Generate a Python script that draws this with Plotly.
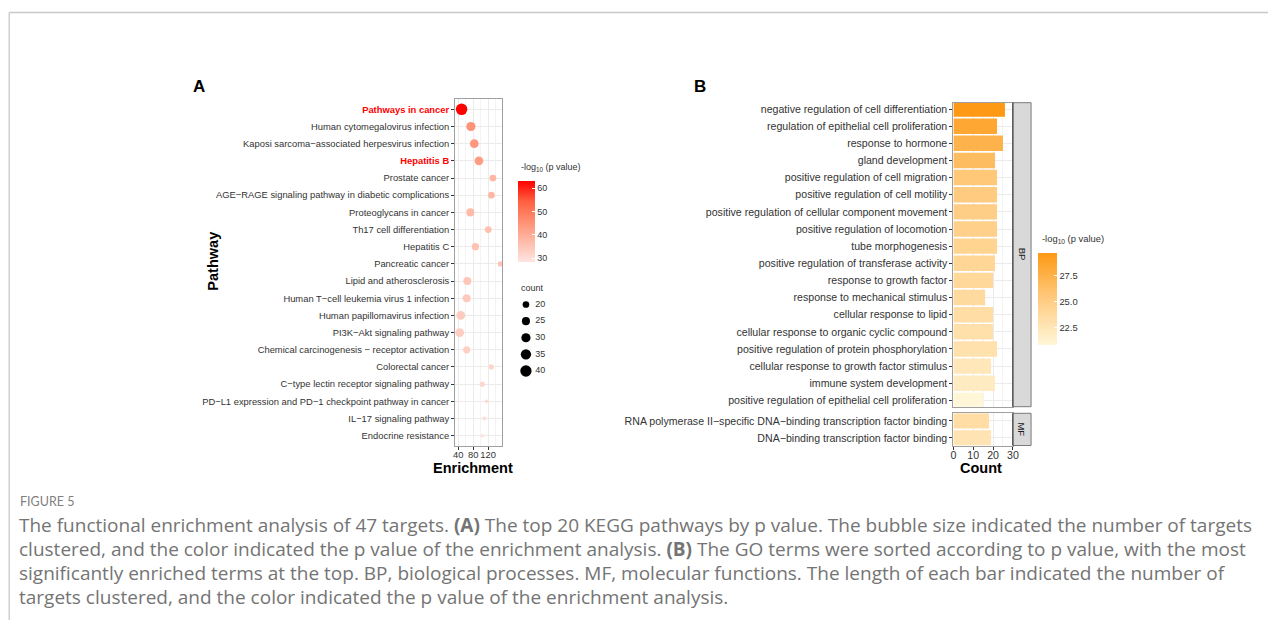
import math
import plotly.graph_objects as go

# Page body adds an 8px margin; size the figure so the page fits the window.
OFF = 8
W, H = 1282 - 2 * OFF, 628 - 2 * OFF
# Observed horizontal placement of the rendered page: window_x = X0 + paper_x * XS
X0, XS = 11.3, 1257.4

# ---------------- Data: panel A (KEGG bubbles) ----------------
kegg_pathways = [
    "Pathways in cancer",
    "Human cytomegalovirus infection",
    "Kaposi sarcoma−associated herpesvirus infection",
    "Hepatitis B",
    "Prostate cancer",
    "AGE−RAGE signaling pathway in diabetic complications",
    "Proteoglycans in cancer",
    "Th17 cell differentiation",
    "Hepatitis C",
    "Pancreatic cancer",
    "Lipid and atherosclerosis",
    "Human T−cell leukemia virus 1 infection",
    "Human papillomavirus infection",
    "PI3K−Akt signaling pathway",
    "Chemical carcinogenesis − receptor activation",
    "Colorectal cancer",
    "C−type lectin receptor signaling pathway",
    "PD−L1 expression and PD−1 checkpoint pathway in cancer",
    "IL−17 signaling pathway",
    "Endocrine resistance",
]
kegg_enrichment = [49, 74, 83, 95.5, 133, 129, 72.5, 120.5, 86, 153,
                   64.5, 62.7, 46.7, 44, 62.7, 128.6, 104.6, 116, 110, 104.6]
kegg_count = [41, 30, 28, 28, 20, 20, 25, 20, 22, 15,
              25, 25, 28, 28, 22, 15, 15, 11, 11, 11]
kegg_logp = [63, 45, 44, 43, 38, 37.5, 37, 36, 35.5, 35,
             34.5, 34, 33.5, 33, 32.5, 32, 31, 30, 29.5, 28.3]
highlighted = ["Pathways in cancer", "Hepatitis B"]
enrich_ticks = [40, 80, 120]
size_legend_counts = [20, 25, 30, 35, 40]
logp_ticks_a = [30, 40, 50, 60]

# ---------------- Data: panel B (GO bars) ----------------
bp_terms = [
    "negative regulation of cell differentiation",
    "regulation of epithelial cell proliferation",
    "response to hormone",
    "gland development",
    "positive regulation of cell migration",
    "positive regulation of cell motility",
    "positive regulation of cellular component movement",
    "positive regulation of locomotion",
    "tube morphogenesis",
    "positive regulation of transferase activity",
    "response to growth factor",
    "response to mechanical stimulus",
    "cellular response to lipid",
    "cellular response to organic cyclic compound",
    "positive regulation of protein phosphorylation",
    "cellular response to growth factor stimulus",
    "immune system development",
    "positive regulation of epithelial cell proliferation",
]
bp_count = [26, 22, 25, 21, 22, 22, 22, 22, 22, 21, 20, 16, 20, 20, 22, 19, 21, 15]
bp_logp = [29.7, 28.5, 27.5, 26.6, 25.6, 25.3, 25.0, 24.8, 24.5, 24.2,
           24.0, 23.8, 23.5, 23.2, 23.0, 22.4, 22.0, 20.9]
mf_terms = [
    "RNA polymerase II−specific DNA−binding transcription factor binding",
    "DNA−binding transcription factor binding",
]
mf_count = [18, 19]
mf_logp = [23.5, 22.8]
count_ticks = [0, 10, 20, 30]
logp_ticks_b = [22.5, 25.0, 27.5]

caption_label = "FIGURE 5"
caption_lines = [
    "The functional enrichment analysis of 47 targets. <b>(A)</b> The top 20 KEGG pathways by p value. The bubble size indicated the number of targets",
    "clustered, and the color indicated the p value of the enrichment analysis. <b>(B)</b> The GO terms were sorted according to p value, with the most",
    "significantly enriched terms at the top. BP, biological processes. MF, molecular functions. The length of each bar indicated the number of",
    "targets clustered, and the color indicated the p value of the enrichment analysis.",
]


# ---------------- helpers (window pixel -> paper) ----------------
def px(x):
    return (x - X0) / XS


def py(y):
    return 1 - (y - OFF) / H


def diam(c):
    return 2.483 * math.sqrt(c) - 4.4


FONT = "Liberation Sans, Arial, sans-serif"
CAP_FONT = "Open Sans, Lato, sans-serif"
TXT = "#333333"
GRID = "#ebebeb"
GRID_MINOR = "#f4f4f4"
BORDER = "#a0a0a0"

scale_a = [[0, "#fee4e1"], [0.25, "#ffbba9"], [0.5, "#ff9074"], [0.75, "#ff5f3f"], [1, "#ff0000"]]
scale_b = [[0, "#fff6d8"], [0.5, "#ffcb80"], [1, "#fd9914"]]

ticktext_a = [
    f'<b><span style="color:#ff0000">{p}</span></b>' if p in highlighted else p
    for p in kegg_pathways
]

fig = go.Figure()

# Panel A bubbles
fig.add_trace(go.Scatter(
    x=kegg_enrichment, y=kegg_pathways, mode="markers",
    marker=dict(size=[diam(c) for c in kegg_count], color=kegg_logp,
                coloraxis="coloraxis", line=dict(width=0), opacity=1),
    xaxis="x", yaxis="y", showlegend=False, hoverinfo="x+y",
))

# Size legend (panel A)
fig.add_trace(go.Scatter(
    x=[0.2] * len(size_legend_counts), y=size_legend_counts, mode="markers",
    marker=dict(size=[diam(c) for c in size_legend_counts], color="#000000",
                line=dict(width=0), opacity=1),
    xaxis="x4", yaxis="y4", showlegend=False, hoverinfo="skip",
))
fig.add_trace(go.Scatter(
    x=[0.42] * len(size_legend_counts), y=size_legend_counts, mode="text",
    text=[str(c) for c in size_legend_counts], textposition="middle right",
    textfont=dict(family=FONT, size=9, color=TXT),
    xaxis="x4", yaxis="y4", showlegend=False, hoverinfo="skip",
))

# Panel B bars
fig.add_trace(go.Bar(
    x=bp_count, y=bp_terms, orientation="h", width=0.9,
    marker=dict(color=bp_logp, coloraxis="coloraxis2", line=dict(width=0)),
    xaxis="x2", yaxis="y2", showlegend=False,
))
fig.add_trace(go.Bar(
    x=mf_count, y=mf_terms, orientation="h", width=0.9,
    marker=dict(color=mf_logp, coloraxis="coloraxis2", line=dict(width=0)),
    xaxis="x3", yaxis="y3", showlegend=False,
))

axis_common = dict(showline=True, mirror=True, linecolor=BORDER, linewidth=1,
                   gridcolor=GRID, gridwidth=1, zeroline=False,
                   tickcolor="#333333", ticklen=3, tickwidth=1)

# Panel A geometry (window pixels)
a_x0, a_x1, a_y0, a_y1 = 455.5, 502.7, 99, 446
# Panel B geometry
b_x0, b_x1 = 954, 1013.5
bp_y0, bp_y1 = 102.7, 406.7
mf_y0, mf_y1 = 413.3, 445.5
strip_x1 = 1031.7

fig.update_layout(
    width=W, height=H, margin=dict(l=0, r=0, t=0, b=0),
    paper_bgcolor="white", plot_bgcolor="white",
    font=dict(family=FONT, color=TXT),
    xaxis=dict(domain=[px(a_x0), px(a_x1)], range=[31.5, 158], anchor="y",
               tickvals=enrich_ticks, ticks="outside", tickangle=0, ticklabelstandoff=-3,
               tickfont=dict(size=9.4, color=TXT),
               minor=dict(dtick=20, tick0=0, showgrid=True, gridcolor=GRID_MINOR, ticks=""),
               **axis_common),
    yaxis=dict(domain=[py(a_y1), py(a_y0)], type="category", categoryarray=kegg_pathways,
               range=[len(kegg_pathways) - 0.4, -0.6], anchor="x",
               tickmode="array", tickvals=kegg_pathways, ticktext=ticktext_a,
               ticks="outside", tickfont=dict(size=9.4, color=TXT), **axis_common),
    xaxis2=dict(domain=[px(b_x0), px(b_x1)], range=[0, 30], anchor="y2",
                tickvals=count_ticks, showticklabels=False, ticks="",
                minor=dict(dtick=5, showgrid=True, gridcolor=GRID_MINOR, ticks=""),
                **axis_common),
    yaxis2=dict(domain=[py(bp_y1), py(bp_y0)], type="category", categoryarray=bp_terms,
                range=[len(bp_terms) - 1 + 0.37, -0.37], anchor="x2",
                ticks="outside", tickfont=dict(size=10.6, color=TXT), **axis_common),
    xaxis3=dict(domain=[px(b_x0), px(b_x1)], range=[0, 30], anchor="y3", matches="x2",
                tickvals=count_ticks, ticks="outside", tickangle=0, ticklabelstandoff=-3,
                tickfont=dict(size=10.6, color=TXT),
                minor=dict(dtick=5, showgrid=True, gridcolor=GRID_MINOR, ticks=""),
                **axis_common),
    yaxis3=dict(domain=[py(mf_y1), py(mf_y0)], type="category", categoryarray=mf_terms,
                range=[len(mf_terms) - 1 + 0.45, -0.45], anchor="x3",
                ticks="outside", tickfont=dict(size=10.6, color=TXT), **axis_common),
    xaxis4=dict(domain=[px(518), px(560)], range=[0, 1], visible=False, anchor="y4", fixedrange=True),
    yaxis4=dict(domain=[py(380), py(296)], range=[42.71, 17.44], visible=False, anchor="x4", fixedrange=True),
    coloraxis=dict(
        colorscale=scale_a, cmin=28.3, cmax=63,
        colorbar=dict(x=px(518), xanchor="left", y=py(181), yanchor="top",
                      lenmode="pixels", len=81, thicknessmode="pixels", thickness=17,
                      xpad=0, ypad=0, outlinewidth=0, tickvals=logp_ticks_a,
                      ticks="inside", ticklen=3, tickcolor="white",
                      tickfont=dict(family=FONT, size=9, color=TXT)),
    ),
    coloraxis2=dict(
        colorscale=scale_b, cmin=20.87, cmax=29.74,
        colorbar=dict(x=px(1038.5), xanchor="left", y=py(252.7), yanchor="top",
                      lenmode="pixels", len=92.3, thicknessmode="pixels", thickness=18.5,
                      xpad=0, ypad=0, outlinewidth=0, tickvals=logp_ticks_b,
                      tickformat=".1f",
                      ticks="inside", ticklen=3, tickcolor="white",
                      tickfont=dict(family=FONT, size=9.4, color=TXT)),
    ),
)

shapes = [
    # figure frame
    dict(type="line", xref="paper", yref="paper", x0=px(9.5), x1=1, y0=py(12.5), y1=py(12.5),
         line=dict(color="#c8c8c8", width=1.3)),
    dict(type="line", xref="paper", yref="paper", x0=px(9.5), x1=px(9.5), y0=py(12.5), y1=0,
         line=dict(color="#c8c8c8", width=1.3)),
    # strips
    dict(type="rect", xref="paper", yref="paper", x0=px(b_x1), x1=px(strip_x1),
         y0=py(bp_y1), y1=py(bp_y0), fillcolor="#d9d9d9", line=dict(color="#7a7a7a", width=1)),
    dict(type="rect", xref="paper", yref="paper", x0=px(b_x1), x1=px(strip_x1),
         y0=py(mf_y1), y1=py(mf_y0), fillcolor="#d9d9d9", line=dict(color="#7a7a7a", width=1)),
    dict(type="line", xref="paper", yref="paper", x0=px(b_x1), x1=px(b_x1),
         y0=py(bp_y1), y1=py(bp_y0), line=dict(color="#333333", width=1)),
    dict(type="line", xref="paper", yref="paper", x0=px(b_x1), x1=px(b_x1),
         y0=py(mf_y1), y1=py(mf_y0), line=dict(color="#333333", width=1)),
]
fig.update_layout(shapes=shapes)


def ann(text, x, y, size, bold=False, color="#000000", xanchor="center", angle=0, family=FONT):
    return dict(text=f"<b>{text}</b>" if bold else text, x=px(x), y=py(y), xref="paper", yref="paper",
                xanchor=xanchor, yanchor="middle", showarrow=False, textangle=angle,
                font=dict(family=family, size=size, color=color))


anns = [
    ann("A", 199, 87, 17, bold=True),
    ann("B", 701, 87, 17, bold=True),
    ann("Pathway", 213, 261, 14.5, bold=True, angle=-90),
    ann("Enrichment", 473, 468, 14.5, bold=True),
    ann("Count", 982, 468, 14.5, bold=True),
    ann("-log<sub>10</sub> (p value)", 519, 168, 9, color=TXT, xanchor="left"),
    ann("count", 519, 288, 9, color=TXT, xanchor="left"),
    ann("-log<sub>10</sub> (p value)", 1041, 239, 9.4, color=TXT, xanchor="left"),
    ann("BP", (b_x1 + strip_x1) / 2, (bp_y0 + bp_y1) / 2, 9.5, color="#1a1a1a", angle=90),
    ann("MF", (b_x1 + strip_x1) / 2, (mf_y0 + mf_y1) / 2, 9.5, color="#1a1a1a", angle=90),
    ann(caption_label, 18, 501, 12.5, color="#808080", xanchor="left", family="Lato, Open Sans, sans-serif"),
]
for i, line in enumerate(caption_lines):
    anns.append(ann(line, 17, 525 + 24 * i, 19.0, color="#747474", xanchor="left", family=CAP_FONT))
fig.update_layout(annotations=anns)

fig.write_html("out.html")
